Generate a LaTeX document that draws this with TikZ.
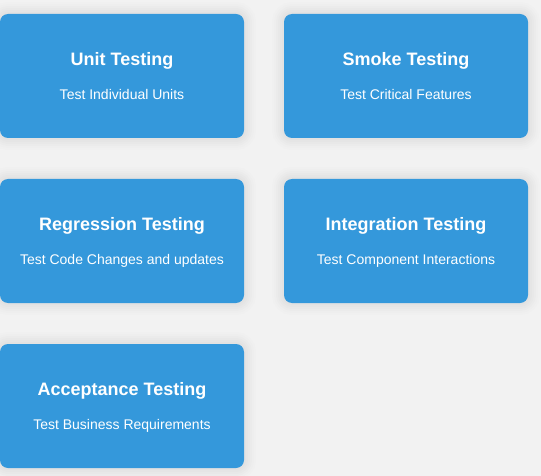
\documentclass[tikz,border=0pt]{standalone}
\usepackage{fontspec}
\setmainfont{Liberation Sans}
\definecolor{cardblue}{HTML}{3498DB}
\definecolor{pagegrey}{HTML}{F2F2F2}
\tikzset{card/.style={rectangle, rounded corners=8, fill=cardblue, minimum width=244, minimum height=124, inner sep=0pt,
    preaction={draw=black, draw opacity=0.008, line width=24},
    preaction={draw=black, draw opacity=0.008, line width=20},
    preaction={draw=black, draw opacity=0.01, line width=16},
    preaction={draw=black, draw opacity=0.01, line width=12},
    preaction={draw=black, draw opacity=0.012, line width=8},
    preaction={draw=black, draw opacity=0.012, line width=4}}}
\tikzset{cardtitle/.style={text=white, font=\fontsize{18}{20}\selectfont\bfseries, anchor=base, inner sep=0pt}}
\tikzset{cardtext/.style={text=white, font=\fontsize{14}{16}\selectfont, anchor=base, inner sep=0pt}}

\begin{document}
\begin{tikzpicture}[x=1pt, y=1pt]
        \fill[pagegrey] (0,0) rectangle (541,-476);
        \useasboundingbox (0,0) rectangle (541,-476);

        \node[card] (unit) at (122, -76) {};
        \node[card] (smoke) at (406, -76) {};
        \node[card] (regr) at (122, -241) {};
        \node[card] (integ) at (406, -241) {};
        \node[card] (accept) at (122, -406) {};

        \node[cardtitle] (unitT) at ([yshift=-52]unit.north) {Unit Testing};
        \node[cardtext] (unitD) at ([yshift=-86]unit.north) {Test Individual Units};
        \node[cardtitle] (smokeT) at ([yshift=-52]smoke.north) {Smoke Testing};
        \node[cardtext] (smokeD) at ([yshift=-86]smoke.north) {Test Critical Features};
        \node[cardtitle] (regrT) at ([yshift=-52]regr.north) {Regression Testing};
        \node[cardtext] (regrD) at ([yshift=-86]regr.north) {Test Code Changes and updates};
        \node[cardtitle] (integT) at ([yshift=-52]integ.north) {Integration Testing};
        \node[cardtext] (integD) at ([yshift=-86]integ.north) {Test Component Interactions};
        \node[cardtitle] (acceptT) at ([yshift=-52]accept.north) {Acceptance Testing};
        \node[cardtext] (acceptD) at ([yshift=-86]accept.north) {Test Business Requirements};
    \end{tikzpicture}
\end{document}
